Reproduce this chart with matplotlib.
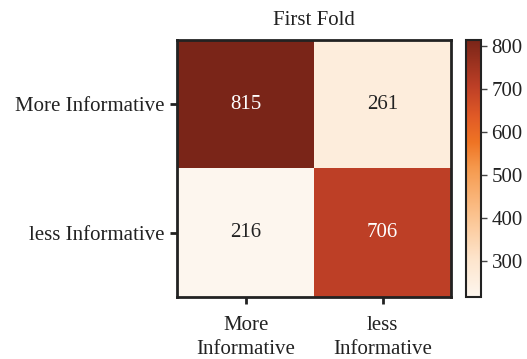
import numpy as np
import matplotlib
matplotlib.use("Agg")
import matplotlib.pyplot as plt
from matplotlib.colors import LinearSegmentedColormap

plt.rcParams['font.family'] = ['Liberation Serif', 'DejaVu Serif']

# confusion matrix values
labels_y = ["More Informative", "less Informative"]
labels_x = ["More\nInformative", "less\nInformative"]
cm = np.array([[815, 261],
               [216, 706]])
title = "First Fold"
cbar_ticks = [300, 400, 500, 600, 700, 800]

cmap = LinearSegmentedColormap.from_list("fold", [
    (0.00, "#fdf6ee"),
    (0.15, "#fde4cb"),
    (0.32, "#fbc28e"),
    (0.50, "#f5994d"),
    (0.60, "#ef7424"),
    (0.70, "#e15a26"),
    (0.82, "#bd3f26"),
    (1.00, "#7a2518"),
])

fig = plt.figure(figsize=(5.27, 3.59), dpi=100)
ax = fig.add_axes([0.336, 0.173, 0.520, 0.716])
cax = fig.add_axes([0.885, 0.173, 0.028, 0.716])

im = ax.imshow(cm, cmap=cmap, vmin=cm.min(), vmax=cm.max(), aspect="auto")

for i in range(cm.shape[0]):
    for j in range(cm.shape[1]):
        c = "white" if cm[i, j] > (cm.max() + cm.min()) / 2 else "#222222"
        ax.text(j, i, str(cm[i, j]), ha="center", va="center", color=c, fontsize=15)

ax.set_xticks(range(len(labels_x)))
ax.set_xticklabels(labels_x, fontsize=15, color="#222222", linespacing=1.35)
ax.set_yticks(range(len(labels_y)))
ax.set_yticklabels(labels_y, fontsize=15, color="#222222")
ax.tick_params(length=5, width=2, color="#222222", pad=4)
ax.tick_params(axis="x", pad=9)
for s in ax.spines.values():
    s.set_linewidth(2)
    s.set_color("#222222")
ax.set_title(title, fontsize=15, color="#222222", pad=11)

cb = fig.colorbar(im, cax=cax, ticks=cbar_ticks)
cb.ax.tick_params(labelsize=15, length=4, width=1, color="#444444", labelcolor="#222222")
cb.outline.set_linewidth(1.5)
cb.outline.set_edgecolor("#222222")

fig.savefig("out.png", dpi=100)
